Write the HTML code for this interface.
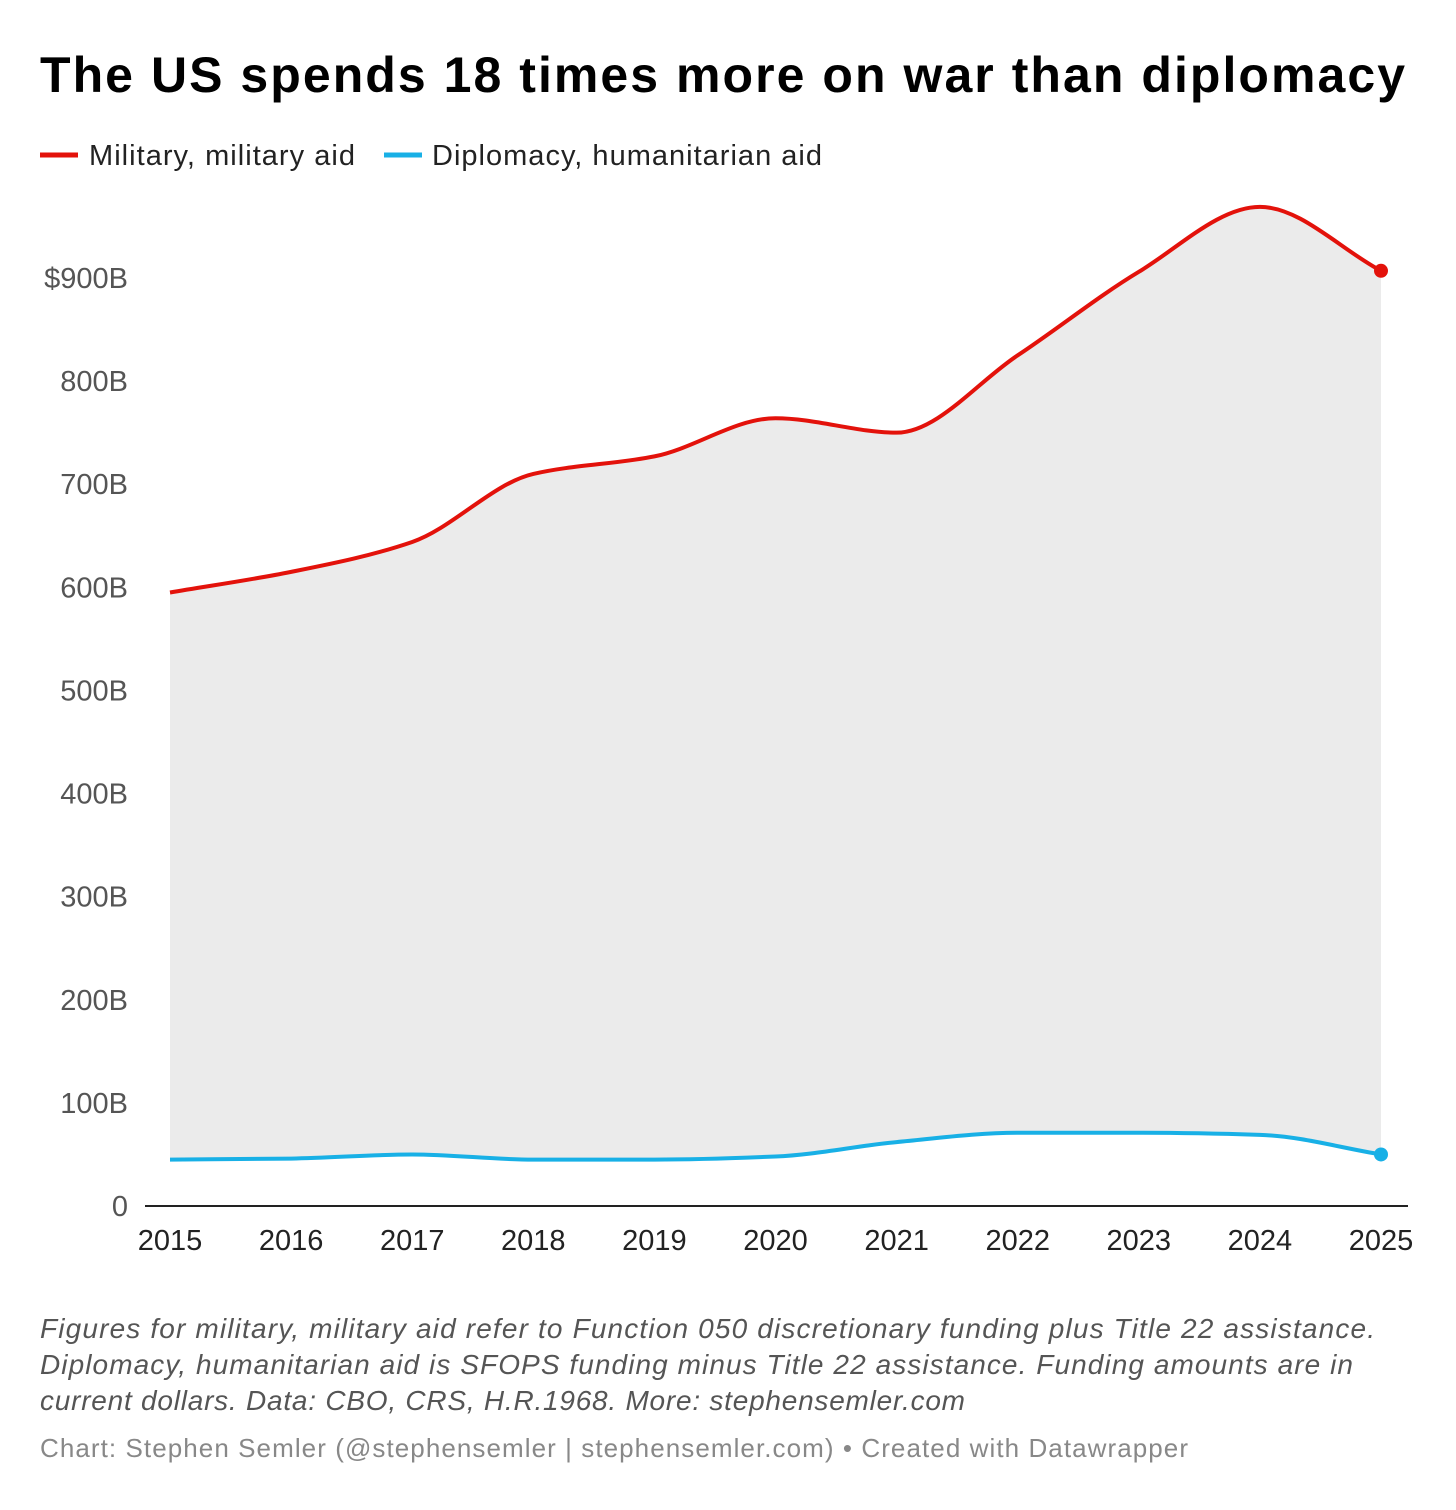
<!DOCTYPE html>
<html><head><meta charset="utf-8"><style>
body{margin:0;background:#fff;width:1456px;height:1505px;overflow:hidden;font-family:"Liberation Sans",sans-serif}
</style></head><body>
<svg id="c" width="1456" height="1505">
<text x="40" y="92" font-size="50" font-weight="bold" fill="#000" textLength="1365">The US spends 18 times more on war than diplomacy</text>
<g>
<line x1="40" y1="155" x2="78" y2="155" stroke="#e3120b" stroke-width="5"/>
<text x="89" y="165" font-size="29" fill="#222" textLength="266">Military, military aid</text>
<line x1="384" y1="155" x2="422" y2="155" stroke="#18b0e6" stroke-width="5"/>
<text x="432" y="165" font-size="29" fill="#222" textLength="390">Diplomacy, humanitarian aid</text>
</g>
<g id="plot"></g>
<g font-size="28" font-style="italic" fill="#555">
<text x="40" y="1338" textLength="1335">Figures for military, military aid refer to Function 050 discretionary funding plus Title 22 assistance.</text>
<text x="40" y="1374" textLength="1313">Diplomacy, humanitarian aid is SFOPS funding minus Title 22 assistance. Funding amounts are in</text>
<text x="40" y="1410" textLength="925">current dollars. Data: CBO, CRS, H.R.1968. More: stephensemler.com</text>
</g>
<text x="40" y="1457" font-size="26" fill="#888" textLength="1148">Chart: Stephen Semler (@stephensemler | stephensemler.com) • Created with Datawrapper</text>
</svg>
<script>
const years=[2015,2016,2017,2018,2019,2020,2021,2022,2023,2024,2025];
const military=[595,615,644,710,727,764,750,825,906,969,907];
const diplomacy=[45,46,50,45,45,48,62,71,71,69,50];
const yTicks=[0,100,200,300,400,500,600,700,800,900];
const yTickLabels=["0","100B","200B","300B","400B","500B","600B","700B","800B","$900B"];
const NS="http://www.w3.org/2000/svg";
const g=document.getElementById('plot');
const x=i=>170+i*(1381-170)/(years.length-1);
const y=v=>1206-v*1.0311;
function mk(t,a){const e=document.createElementNS(NS,t);for(const k in a)e.setAttribute(k,a[k]);g.appendChild(e);return e;}
function mono(xs,ys){const n=xs.length,d=[],m=[];for(let i=0;i<n-1;i++)d.push((ys[i+1]-ys[i])/(xs[i+1]-xs[i]));m[0]=d[0];m[n-1]=d[n-2];for(let i=1;i<n-1;i++){m[i]=d[i-1]*d[i]<=0?0:2/(1/d[i-1]+1/d[i]);}
let p="";for(let i=0;i<n-1;i++){const h=xs[i+1]-xs[i];p+=`C${xs[i]+h/3},${ys[i]+m[i]*h/3} ${xs[i+1]-h/3},${ys[i+1]-m[i+1]*h/3} ${xs[i+1]},${ys[i+1]}`;}return p;}
const xs=years.map((_,i)=>x(i));
const ym=military.map(y),yd=diplomacy.map(y);
const pm="M"+xs[0]+","+ym[0]+mono(xs,ym);
const xr=xs.slice().reverse(),ydr=yd.slice().reverse();
const pdr=mono(xr,ydr);
const area=mk('path',{d:pm+"L"+xr[0]+","+ydr[0]+pdr+"Z",fill:"#ebebeb"});


yTicks.forEach((v,i)=>{const t=mk('text',{x:128,y:y(v)+10,'font-size':29,fill:'#555','text-anchor':'end'});t.textContent=yTickLabels[i];

});
const ax=mk('line',{x1:145,x2:1408,y1:1206,y2:1206,stroke:'#222','stroke-width':2});


years.forEach((yr,i)=>{const t=mk('text',{x:x(i),y:1250,'font-size':29,fill:'#222','text-anchor':'middle'});t.textContent=yr;

});
const lm=mk('path',{d:pm,fill:'none',stroke:'#e3120b','stroke-width':4});


const ld=mk('path',{d:"M"+xs[0]+","+yd[0]+mono(xs,yd),fill:'none',stroke:'#18b0e6','stroke-width':4});


const n=years.length-1;
const dm=mk('circle',{cx:xs[n],cy:ym[n],r:7,fill:'#e3120b'});


const dd=mk('circle',{cx:xs[n],cy:yd[n],r:7,fill:'#18b0e6'});


</script>
</body></html>
